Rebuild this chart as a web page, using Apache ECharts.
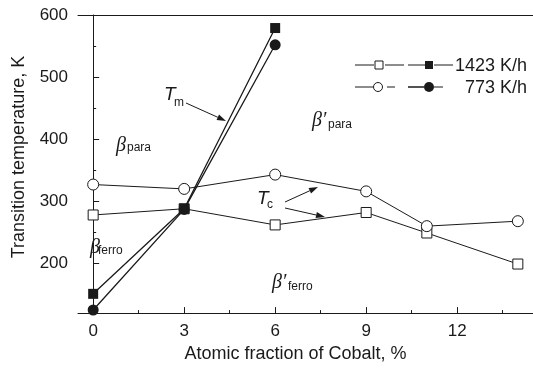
<!DOCTYPE html>
<html><head><meta charset="utf-8">
<script src="https://cdn.jsdelivr.net/npm/echarts@6/dist/echarts.min.js"></script>
<style>html,body{margin:0;padding:0;background:#fff}#c{width:533px;height:368px}</style>
</head><body><div id="c"></div>
<script>
// ---- data ----
const xTicks = [0, 3, 6, 9, 12];
const xMinor = [1.5, 4.5, 7.5, 10.5, 13.5];
const yTicks = [200, 300, 400, 500, 600];
const yMinor = [150, 250, 350, 450, 550];
const seriesNames = ['1423 K/h', '773 K/h'];
// Tc (open symbols)
const tc1423 = [[0, 278], [3, 288], [6, 262], [9, 282], [11, 249], [14, 199]];
const tc773 = [[0, 327], [3, 320], [6, 343], [9, 316], [11, 260], [14, 268]];
// Tm (filled symbols)
const tm1423 = [[0, 151], [3, 288], [6, 579]];
const tm773 = [[0, 125], [3, 287], [6, 552]];

const FONT = 'Liberation Sans, Arial, sans-serif';
const INK = '#1a1a1a';
const chart = echarts.init(document.getElementById('c'), null, {renderer: 'canvas'});

function arrow(x1, y1, x2, y2) {
  const a = Math.atan2(y2 - y1, x2 - x1), L = 9, W = 3;
  const bx = x2 - L * Math.cos(a), by = y2 - L * Math.sin(a);
  const px = -Math.sin(a) * W, py = Math.cos(a) * W;
  return [
    {type: 'line', shape: {x1, y1, x2: bx, y2: by}, style: {stroke: INK, lineWidth: 1}},
    {type: 'polygon', shape: {points: [[x2, y2], [bx + px, by + py], [bx - px, by - py]]}, style: {fill: INK}}
  ];
}
function greek(x, y, main, sub, subDx, subDy) {
  return [
    {type: 'text', x, y, style: {text: main, font: 'italic 20px Liberation Serif, serif', fill: INK, textVerticalAlign: 'middle'}},
    {type: 'text', x: x + subDx, y: y + subDy, style: {text: sub, font: '12px ' + FONT, fill: INK, textVerticalAlign: 'middle'}}
  ];
}
const graphics = [].concat(
  // annotations
  [{type: 'text', x: 164, y: 95, style: {text: 'T', font: 'italic 19px ' + FONT, fill: INK, textVerticalAlign: 'middle'}},
   {type: 'text', x: 174, y: 103, style: {text: 'm', font: '12px ' + FONT, fill: INK, textVerticalAlign: 'middle'}}],
  arrow(186, 103, 226, 121),
  [{type: 'text', x: 257, y: 199, style: {text: 'T', font: 'italic 19px ' + FONT, fill: INK, textVerticalAlign: 'middle'}},
   {type: 'text', x: 267, y: 205, style: {text: 'c', font: '12px ' + FONT, fill: INK, textVerticalAlign: 'middle'}}],
  arrow(285, 202, 318, 187),
  arrow(285, 208, 325, 217),
  greek(116, 146, 'β', 'para', 11, 2),
  greek(312, 121, 'β′', 'para', 16, 4),
  greek(90, 248, 'β', 'ferro', 8, 3),
  greek(272, 283, 'β′', 'ferro', 16, 4),
  // legend
  [
    {type: 'line', shape: {x1: 355, y1: 65, x2: 374, y2: 65}, style: {stroke: INK, lineWidth: 1}},
    {type: 'rect', shape: {x: 375, y: 61, width: 8, height: 8}, style: {fill: '#fff', stroke: INK, lineWidth: 1}},
    {type: 'line', shape: {x1: 385, y1: 65, x2: 404, y2: 65}, style: {stroke: INK, lineWidth: 1}},
    {type: 'line', shape: {x1: 408, y1: 65, x2: 425, y2: 65}, style: {stroke: INK, lineWidth: 1}},
    {type: 'rect', shape: {x: 425, y: 61, width: 8, height: 8}, style: {fill: INK}},
    {type: 'line', shape: {x1: 434, y1: 65, x2: 453, y2: 65}, style: {stroke: INK, lineWidth: 1}},
    {type: 'text', x: 527, y: 66, style: {text: seriesNames[0], font: '18px ' + FONT, fill: INK, textAlign: 'right', textVerticalAlign: 'middle'}},
    {type: 'line', shape: {x1: 355, y1: 87, x2: 373, y2: 87}, style: {stroke: INK, lineWidth: 1}},
    {type: 'circle', shape: {cx: 378, cy: 87, r: 4.5}, style: {fill: '#fff', stroke: INK, lineWidth: 1}},
    {type: 'line', shape: {x1: 387, y1: 87, x2: 395, y2: 87}, style: {stroke: INK, lineWidth: 1}},
    {type: 'line', shape: {x1: 408, y1: 87, x2: 424, y2: 87}, style: {stroke: INK, lineWidth: 1.5}},
    {type: 'circle', shape: {cx: 429, cy: 87, r: 5}, style: {fill: INK}},
    {type: 'line', shape: {x1: 434, y1: 87, x2: 443, y2: 87}, style: {stroke: INK, lineWidth: 1}},
    {type: 'text', x: 527, y: 88, style: {text: seriesNames[1], font: '18px ' + FONT, fill: INK, textAlign: 'right', textVerticalAlign: 'middle'}}
  ]
);

const xBase = {type: 'value', min: -0.5, max: 14.5, splitLine: {show: false}};
const yBase = {type: 'value', min: 120, max: 600, splitLine: {show: false}};
const openSym = {color: '#fff', borderColor: INK, borderWidth: 1};
const option = {
  backgroundColor: '#fff',
  animation: false,
  grid: {left: 78, top: 15, width: 460, height: 302, containLabel: false},
  xAxis: [
    Object.assign({}, xBase, {
      position: 'bottom',
      name: 'Atomic fraction of Cobalt, %', nameLocation: 'middle', nameGap: 27,
      nameTextStyle: {fontSize: 18, fontFamily: FONT, color: INK, padding: [0, 20, 0, 0]},
      axisLine: {lineStyle: {color: INK, width: 1}},
      axisTick: {inside: true, length: 6, customValues: xTicks, lineStyle: {color: INK}},
      axisLabel: {customValues: xTicks, fontSize: 17, fontFamily: FONT, color: INK, margin: 10}
    }),
    Object.assign({}, xBase, {
      position: 'bottom',
      axisLine: {show: false},
      axisTick: {inside: true, length: 3, customValues: xMinor, lineStyle: {color: INK}},
      axisLabel: {show: false}
    }),
    Object.assign({}, xBase, {
      position: 'top',
      axisLine: {lineStyle: {color: INK, width: 1}},
      axisTick: {show: false}, axisLabel: {show: false}
    })
  ],
  yAxis: [
    Object.assign({}, yBase, {
      position: 'left',
      name: 'Transition temperature, K', nameLocation: 'middle', nameGap: 50,
      nameTextStyle: {fontSize: 18, fontFamily: FONT, color: INK, padding: [0, 0, 0, 14]},
      axisLine: {show: true, lineStyle: {color: INK, width: 1}},
      axisTick: {show: true, inside: true, length: 6, customValues: yTicks, lineStyle: {color: INK}},
      axisLabel: {customValues: yTicks, fontSize: 17, fontFamily: FONT, color: INK, margin: 10}
    }),
    Object.assign({}, yBase, {
      position: 'left',
      axisLine: {show: false},
      axisTick: {show: true, inside: true, length: 3, customValues: yMinor, lineStyle: {color: INK}},
      axisLabel: {show: false}
    })
  ],
  series: [
    {name: seriesNames[0] + ' Tc', type: 'line', data: tc1423, symbol: 'rect', symbolSize: 10,
     itemStyle: openSym, lineStyle: {color: INK, width: 1}, z: 2},
    {name: seriesNames[1] + ' Tc', type: 'line', data: tc773, symbol: 'circle', symbolSize: 11,
     itemStyle: openSym, lineStyle: {color: INK, width: 1}, z: 3},
    {name: seriesNames[1] + ' Tm', type: 'line', data: tm773, symbol: 'circle', symbolSize: 11,
     itemStyle: {color: INK}, lineStyle: {color: INK, width: 1.3}, z: 4},
    {name: seriesNames[0] + ' Tm', type: 'line', data: tm1423, symbol: 'rect', symbolSize: 10,
     itemStyle: {color: INK}, lineStyle: {color: INK, width: 1.3}, z: 5}
  ],
  graphic: graphics
};
chart.setOption(option);
</script>
</body></html>
